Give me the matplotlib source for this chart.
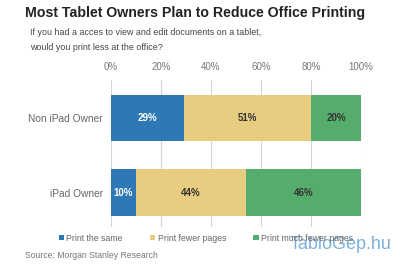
import matplotlib
matplotlib.use("Agg")
import matplotlib.pyplot as plt
from matplotlib.patches import Patch

plt.rcParams['font.family'] = ['Liberation Sans', 'DejaVu Sans']

categories = ["Non iPad Owner", "iPad Owner"]
series_names = ["Print the same", "Print fewer pages", "Print much fewer pages"]
values = {
    "Print the same": [29, 10],
    "Print fewer pages": [51, 44],
    "Print much fewer pages": [20, 46],
}
colors = ["#2e78b6", "#e8cd80", "#55ad6b"]
label_colors = ["white", "#333333", "#333333"]
xticks = [0, 20, 40, 60, 80, 100]

fig = plt.figure(figsize=(4, 2.66), dpi=100)
ax = fig.add_axes([0.2775, 0.1466, 0.625, 0.5524])

ypos = list(range(len(categories)))
left = [0] * len(categories)
for name, c, lc in zip(series_names, colors, label_colors):
    vals = values[name]
    ax.barh(ypos, vals, left=left, height=0.62, color=c, zorder=3)
    for y, v, l in zip(ypos, vals, left):
        ax.text(l + v / 2, y, f"{v}%", ha='center', va='center', color=lc,
                fontsize=7, fontweight='bold', zorder=4)
    left = [a + b for a, b in zip(left, vals)]

ax.set_xlim(0, 100)
ax.set_ylim(1.463, -0.51)
ax.set_xticks(xticks)
ax.set_xticklabels([f"{t}%" for t in xticks])
ax.xaxis.tick_top()
ax.tick_params(axis='x', length=0, pad=6, labelsize=7, colors='#777777')
ax.set_yticks(ypos)
ax.set_yticklabels(categories)
ax.tick_params(axis='y', length=0, pad=6, labelsize=7.3, colors='#666666')
ax.grid(axis='x', color='#d4d4d4', linewidth=0.8, zorder=0)
for s in ax.spines.values():
    s.set_visible(False)

fig.text(0.0625, 0.951, "Most Tablet Owners Plan to Reduce Office Printing",
         fontsize=10.2, fontweight='bold', color='#222222', va='center')
fig.text(0.075, 0.876, "If you had a acces to view and edit documents on a tablet,",
         fontsize=6.4, color='#444444', va='center')
fig.text(0.075, 0.823, "would you print less at the office?",
         fontsize=6.4, color='#444444', va='center')

handles = [Patch(facecolor=c, label=n) for n, c in zip(series_names, colors)]
fig.legend(handles=handles, loc='center', bbox_to_anchor=(0.515, 0.105), ncol=3,
           frameon=False, fontsize=6.3, handlelength=0.6, handleheight=0.6,
           handletextpad=0.3, columnspacing=3.1, labelcolor='#666666')

fig.text(0.0625, 0.041, "Source: Morgan Stanley Research", fontsize=6.2,
         color='#777777', va='center')
fig.text(0.98, 0.08, "TabloGep.hu", fontsize=13, color='#6fa8d6', ha='right',
         va='center', alpha=0.9)

fig.savefig("out.png", dpi=100)
